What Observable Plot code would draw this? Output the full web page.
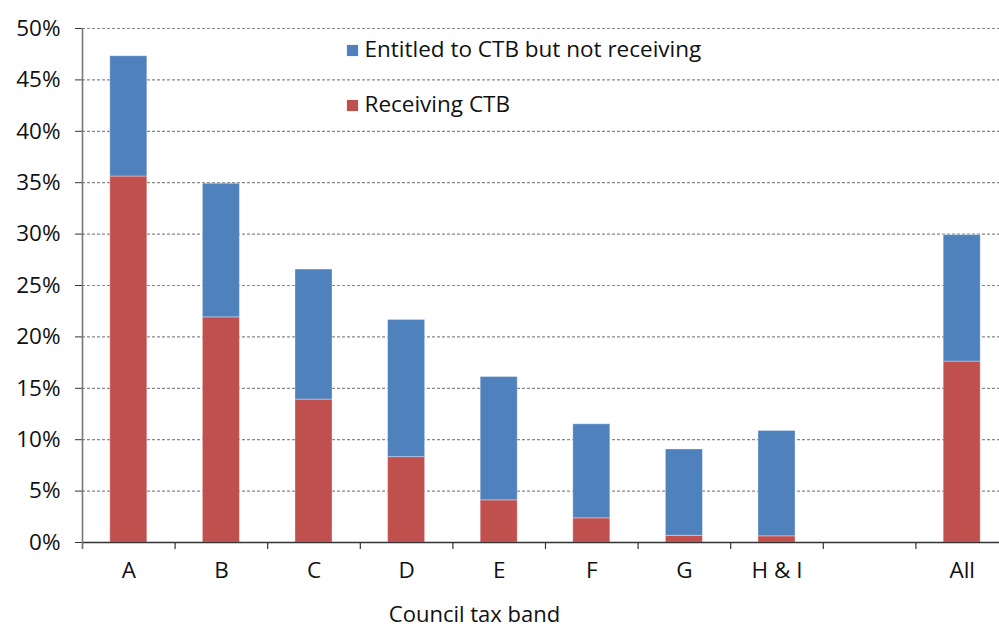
<!DOCTYPE html>
<html><head><meta charset="utf-8">
<script src="https://cdn.jsdelivr.net/npm/d3@7"></script>
<script src="https://cdn.jsdelivr.net/npm/@observablehq/plot@0.6"></script>
<style>
html,body{margin:0;padding:0;background:#fff;overflow:hidden;}
#chart{position:relative;width:999px;height:632px;overflow:hidden;}
#chart svg{display:block;max-width:none !important;height:632px !important;}
</style></head><body><div id="chart"></div>
<script>
const bands = ["A", "B", "C", "D", "E", "F", "G", "H & I", " ", "All"];
const receiving = [35.6, 21.9, 13.9, 8.3, 4.1, 2.35, 0.65, 0.6, null, 17.6];
const entitledNotReceiving = [11.7, 13.0, 12.65, 13.35, 12.0, 9.15, 8.4, 10.25, null, 12.3];
const seriesNames = ["Receiving CTB", "Entitled to CTB but not receiving"];
const seriesColors = ["#C0504D", "#4F81BD"];
const yTicks = [0, 5, 10, 15, 20, 25, 30, 35, 40, 45, 50];
const xLabel = "Council tax band";

const rows = [];
bands.forEach((b, i) => {
  if (receiving[i] != null) rows.push({band: b, series: seriesNames[0], value: receiving[i]});
  if (entitledNotReceiving[i] != null) rows.push({band: b, series: seriesNames[1], value: entitledNotReceiving[i]});
});

const W = 1008, H = 632, ML = 82, MR = 0, MT = 28, MB = 90;
const step = (W - ML - MR) / bands.length;
const font = "'Open Sans', 'Noto Sans', sans-serif";
const FS = 22.5;

const legendMarks = [];
[1, 0].forEach((si, k) => {
  legendMarks.push(Plot.dot([seriesNames[si]], {frameAnchor: "top-left", dx: 270, dy: 22 + k * 55, symbol: "square", r: 6.3, fill: seriesColors[si], stroke: null}));
  legendMarks.push(Plot.text([seriesNames[si]], {frameAnchor: "top-left", lineAnchor: "middle", dx: 282, dy: 21.5 + k * 55, text: d => d, textAnchor: "start", fontSize: FS, fill: "#111"}));
});

const chart = Plot.plot({
  width: W, height: H,
  marginLeft: ML, marginRight: MR, marginTop: MT, marginBottom: MB,
  style: {fontFamily: font, fontSize: FS + "px", color: "#111", background: "#fff", maxWidth: "none"},
  x: {domain: bands, paddingInner: 0.6, paddingOuter: 0.3, round: false, label: null},
  y: {domain: [0, 50], label: null},
  color: {domain: seriesNames, range: seriesColors},
  marks: [
    Plot.ruleY(yTicks.filter(d => d > 0), {stroke: "#888", strokeWidth: 1.2, strokeDasharray: "3,2"}),
    Plot.barY(rows, {x: "band", y: "value", fill: "series", order: seriesNames, stroke: "white", strokeOpacity: 0.35, strokeWidth: 1}),
    Plot.axisY({ticks: yTicks, tickSize: 7, tickPadding: 15, tickFormat: d => d + "%", fontSize: FS, stroke: "#333"}),
    Plot.axisX({tickSize: 0, tickPadding: 20, fontSize: FS}),
    Plot.ruleX(bands, {x: d => d, y1: 0, y2: -0.68, dx: -step / 2, stroke: "#333", strokeWidth: 1.2}),
    Plot.ruleY([0], {stroke: "#333", strokeWidth: 1.5}),
    Plot.ruleX([bands[0]], {x: d => d, y1: -0.68, y2: 50, dx: -step / 2, stroke: "#777", strokeWidth: 1.6}),
    Plot.text([xLabel], {frameAnchor: "bottom", lineAnchor: "middle", dx: -71, dy: 72, text: d => d, fontSize: 22, fill: "#111"}),
    ...legendMarks
  ]
});
document.getElementById("chart").appendChild(chart);
</script></body></html>
